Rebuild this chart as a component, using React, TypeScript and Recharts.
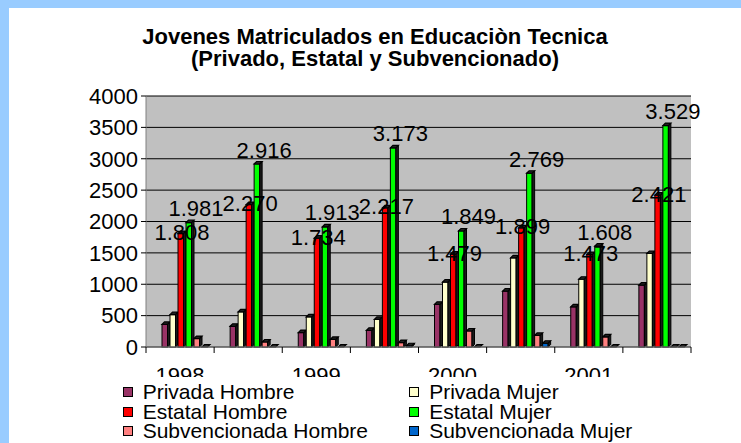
import React from 'react';
import { BarChart, Bar, XAxis, YAxis, CartesianGrid, LabelList } from 'recharts';

const categories = ['1998', '', '1999', '', '2000', '', '2001', ''];
const privadaHombre = [360, 330, 230, 265, 680, 890, 640, 985];
const privadaMujer = [515, 560, 480, 440, 1035, 1420, 1080, 1490];
const estatalHombre = [1808, 2270, 1734, 2217, 1479, 1899, 1473, 2421];
const estatalMujer = [1981, 2916, 1913, 3173, 1849, 2769, 1608, 3529];
const subvHombre = [135, 80, 120, 70, 255, 185, 160, 0];
const subvMujer = [0, 0, 0, 20, 0, 60, 0, 0];
const yTicks = [0, 500, 1000, 1500, 2000, 2500, 3000, 3500, 4000];

const series = [
    { key: 'privadaHombre', name: 'Privada Hombre', color: '#993366' },
    { key: 'privadaMujer', name: 'Privada Mujer', color: '#FFFFCC' },
    { key: 'estatalHombre', name: 'Estatal Hombre', color: '#FF0000' },
    { key: 'estatalMujer', name: 'Estatal Mujer', color: '#00FF00' },
    { key: 'subvHombre', name: 'Subvencionada Hombre', color: '#FF8080' },
    { key: 'subvMujer', name: 'Subvencionada Mujer', color: '#0066CC' },
];

const data = categories.map((c, i) => ({
    name: c,
    privadaHombre: privadaHombre[i],
    privadaMujer: privadaMujer[i],
    estatalHombre: estatalHombre[i],
    estatalMujer: estatalMujer[i],
    subvHombre: subvHombre[i],
    subvMujer: subvMujer[i],
}));

const FONT = '"Liberation Sans", Arial, sans-serif';
const W = 741;
const H = 443;
const margin = { top: 96, right: 50, bottom: 66, left: 86 };
const Y_WIDTH = 60;
const X_HEIGHT = 30;
const plotW = W - margin.left - Y_WIDTH - margin.right;
const band = plotW / categories.length;
const SHIFT = 6; // 3d depth offset of the columns
const DEPTH = 2.5;

const fmt = (v: number) => String(v).replace(/\B(?=(\d{3})+(?!\d))/g, '.');

// column with a dark side and cap, like the old excel 3d look
const Column3D = (props: any) => {
    const { x, y, width, height, fill } = props;
    if (x == null || y == null) return null;
    const h = Math.max(0, height || 0);
    const fx = x + SHIFT;
    const fw = Math.max(1, width - DEPTH);
    const top = y;
    const bottom = y + h;
    const side = `${fx + fw},${top} ${fx + fw + DEPTH},${top - DEPTH} ${fx + fw + DEPTH},${bottom - DEPTH} ${fx + fw},${bottom}`;
    const cap = `${fx},${top} ${fx + DEPTH},${top - DEPTH} ${fx + fw + DEPTH},${top - DEPTH} ${fx + fw},${top}`;
    return (
        <g>
            {h > 0 && <rect x={fx} y={top} width={fw} height={h} fill={fill} stroke="#000" strokeWidth={1} />}
            {h > 0 && <polygon points={side} fill="#1a1a1a" stroke="#000" strokeWidth={1} />}
            <polygon points={cap} fill="#222" stroke="#000" strokeWidth={1.2} />
        </g>
    );
};

const makeLabel = (dx: number, dy: number) => (props: any) => {
    const { x, y, width, value } = props;
    return (
        <text
            x={x + SHIFT + width / 2 + dx}
            y={y + dy}
            textAnchor="middle"
            dominantBaseline="central"
            fontSize={22}
            fontFamily={FONT}
            fill="#000"
        >
            {fmt(value)}
        </text>
    );
};

const XTick = (props: any) => {
    const { x, y, payload, index } = props;
    return (
        <g>
            {index === 0 && <line x1={x - band / 2} x2={x - band / 2} y1={y} y2={y + 6} stroke="#000" />}
            <line x1={x + band / 2} x2={x + band / 2} y1={y} y2={y + 6} stroke="#000" />
            <text x={x} y={y + 36} textAnchor="middle" fontSize={22} fontFamily={FONT} fill="#000">
                {payload.value}
            </text>
        </g>
    );
};

const App: React.FC = () => {
    return (
        <div style={{ position: 'absolute', left: 0, top: 0, width: W, height: H, background: '#99CCFF', overflow: 'hidden' }}>
            <div style={{ position: 'absolute', left: 9, top: 8, right: 0, bottom: 0, background: '#fff' }} />
            <div style={{ position: 'absolute', left: 0, top: 0 }}>
                <BarChart width={W} height={H} data={data} margin={margin} barGap={0} barCategoryGap={10}>
                    <CartesianGrid vertical={false} stroke="#000" fill="#C0C0C0" fillOpacity={1} />
                    <XAxis
                        dataKey="name"
                        height={X_HEIGHT}
                        tickLine={false}
                        tickSize={0}
                        tickMargin={0}
                        axisLine={{ stroke: '#808080' }}
                        interval={0}
                        tick={<XTick />}
                    />
                    <YAxis
                        width={Y_WIDTH}
                        domain={[0, 4000]}
                        ticks={yTicks}
                        interval={0}
                        tickSize={5}
                        tickMargin={3}
                        axisLine={{ stroke: '#808080' }}
                        tickLine={{ stroke: '#000' }}
                        tick={{ fill: '#000', fontSize: 22, fontFamily: FONT }}
                    />
                    {series.map((s) => (
                        <Bar key={s.key} dataKey={s.key} name={s.name} fill={s.color} shape={<Column3D />} isAnimationActive={false}>
                            {s.key === 'estatalHombre' && <LabelList dataKey={s.key} content={makeLabel(0, -1)} />}
                            {s.key === 'estatalMujer' && <LabelList dataKey={s.key} content={makeLabel(6, -14)} />}
                        </Bar>
                    ))}
                </BarChart>
            </div>
            <div
                style={{
                    position: 'absolute', left: 9, top: 26, width: W - 9, textAlign: 'center',
                    fontFamily: FONT, fontWeight: 'bold', fontSize: 22, lineHeight: '22px', color: '#000',
                }}
            >
                <div>Jovenes Matriculados en Educaciòn Tecnica</div>
                <div>(Privado, Estatal y Subvencionado)</div>
            </div>
            <div
                style={{
                    position: 'absolute', left: 110, top: 377, width: 600, bottom: 0, background: '#fff',
                    fontFamily: FONT, fontSize: 21, lineHeight: '19.5px', color: '#000',
                }}
            >
                <div style={{ position: 'absolute', left: 12.7, top: 5.3, display: 'grid', gridTemplateColumns: '286.5px auto' }}>
                    {series.map((s) => (
                        <div key={s.key} style={{ display: 'flex', alignItems: 'center', height: 19.5, whiteSpace: 'nowrap' }}>
                            <span style={{ display: 'inline-block', width: 10, height: 10, boxSizing: 'border-box', border: '1.5px solid #000', background: s.color, marginRight: 10 }} />
                            <span>{s.name}</span>
                        </div>
                    ))}
                </div>
            </div>
        </div>
    );
};

export default App;
